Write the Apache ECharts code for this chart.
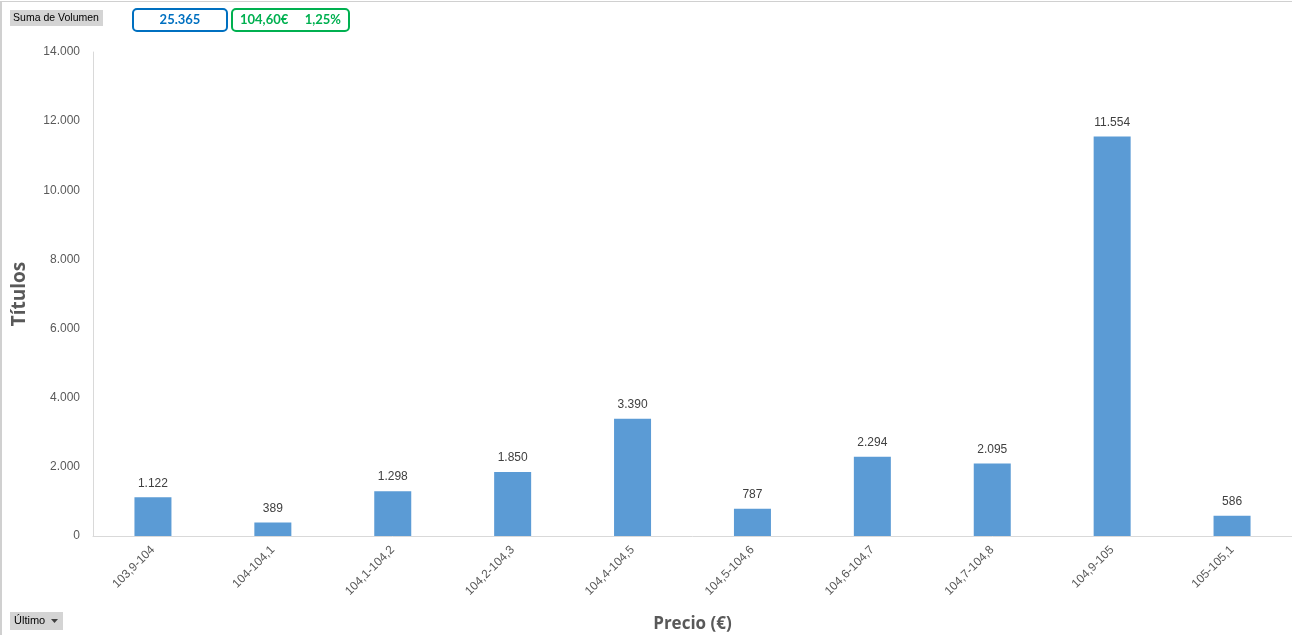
<!DOCTYPE html>
<html>
<head>
<meta charset="utf-8">
<script src="https://cdn.jsdelivr.net/npm/echarts@6/dist/echarts.min.js"></script>
<style>
  html, body { margin: 0; padding: 0; background: #fff; }
  #chart { width: 1292px; height: 635px; }
</style>
</head>
<body>
<div id="chart"></div>
<script>
// rangos de precio y volumen (títulos) por rango
const categories = ['103,9-104', '104-104,1', '104,1-104,2', '104,2-104,3', '104,4-104,5',
                    '104,5-104,6', '104,6-104,7', '104,7-104,8', '104,9-105', '105-105,1'];
const volumen = [1122, 389, 1298, 1850, 3390, 787, 2294, 2095, 11554, 586];
const yTicks = { min: 0, max: 14000, interval: 2000 };

const fmt = v => String(v).replace(/\B(?=(\d{3})+(?!\d))/g, '.');

const chart = echarts.init(document.getElementById('chart'));
chart.setOption({
    animation: false,
    textStyle: { fontFamily: 'Liberation Sans' },
    grid: { left: 93, right: 0, top: 52, bottom: 99, containLabel: false, outerBoundsMode: 'none' },
    xAxis: {
        type: 'category',
        data: categories,
        axisLine: { lineStyle: { color: '#d9d9d9' } },
        axisTick: { show: false },
        axisLabel: { rotate: 45, color: '#595959', fontSize: 12, margin: 12 },
        name: 'Precio (€)',
        nameLocation: 'middle',
        nameGap: 80,
        nameTextStyle: { color: '#595959', fontSize: 17, fontWeight: 'bold', fontFamily: 'Open Sans' }
    },
    yAxis: {
        type: 'value',
        min: yTicks.min, max: yTicks.max, interval: yTicks.interval,
        axisLine: { show: true, lineStyle: { color: '#d9d9d9' } },
        splitLine: { show: false },
        axisLabel: { color: '#595959', fontSize: 12, margin: 13, formatter: fmt },
        name: 'Títulos',
        nameLocation: 'middle',
        nameGap: 64,
        nameTextStyle: { color: '#595959', fontSize: 19, fontWeight: 'bold', fontFamily: 'Open Sans' }
    },
    series: [{
        type: 'bar',
        data: volumen,
        barWidth: 37,
        itemStyle: { color: '#5b9bd5' },
        label: { show: true, position: 'top', distance: 8, color: '#404040', fontSize: 12, formatter: p => fmt(p.value) }
    }],
    graphic: [
        { type: 'rect', shape: { x: 0, y: 1, width: 1292, height: 1 }, style: { fill: '#d0d0d0' } },
        { type: 'rect', shape: { x: 0, y: 1, width: 2, height: 634 }, style: { fill: '#d0d0d0' } },
        { type: 'rect', shape: { x: 10, y: 10, width: 93, height: 16 }, style: { fill: '#d4d4d4' } },
        { type: 'text', x: 56, y: 18, style: { text: 'Suma de Volumen', fill: '#000', fontSize: 10.5, fontFamily: 'Liberation Sans', align: 'center', verticalAlign: 'middle' } },
        { type: 'rect', shape: { x: 133, y: 9, width: 94, height: 22, r: 4 }, style: { fill: '#fff', stroke: '#0070c0', lineWidth: 2 } },
        { type: 'text', x: 180, y: 20, style: { text: '25.365', fill: '#0070c0', fontSize: 13, fontWeight: 'bold', fontFamily: 'Lato', align: 'center', verticalAlign: 'middle' } },
        { type: 'rect', shape: { x: 232, y: 9, width: 117, height: 22, r: 4 }, style: { fill: '#fff', stroke: '#00b050', lineWidth: 2 } },
        { type: 'text', x: 240, y: 20, style: { text: '104,60€', fill: '#00b050', fontSize: 13, fontWeight: 'bold', fontFamily: 'Lato', verticalAlign: 'middle' } },
        { type: 'text', x: 341, y: 20, style: { text: '1,25%', fill: '#00b050', fontSize: 13, fontWeight: 'bold', fontFamily: 'Lato', align: 'right', verticalAlign: 'middle' } },
        { type: 'rect', shape: { x: 10, y: 612, width: 53, height: 18 }, style: { fill: '#d4d4d4' } },
        { type: 'text', x: 14, y: 621, style: { text: 'Último', fill: '#000', fontSize: 11, fontFamily: 'Liberation Sans', verticalAlign: 'middle' } },
        { type: 'polygon', shape: { points: [[51, 619], [58, 619], [54.5, 623]] }, style: { fill: '#404040' } }
    ]
});
</script>
</body>
</html>
